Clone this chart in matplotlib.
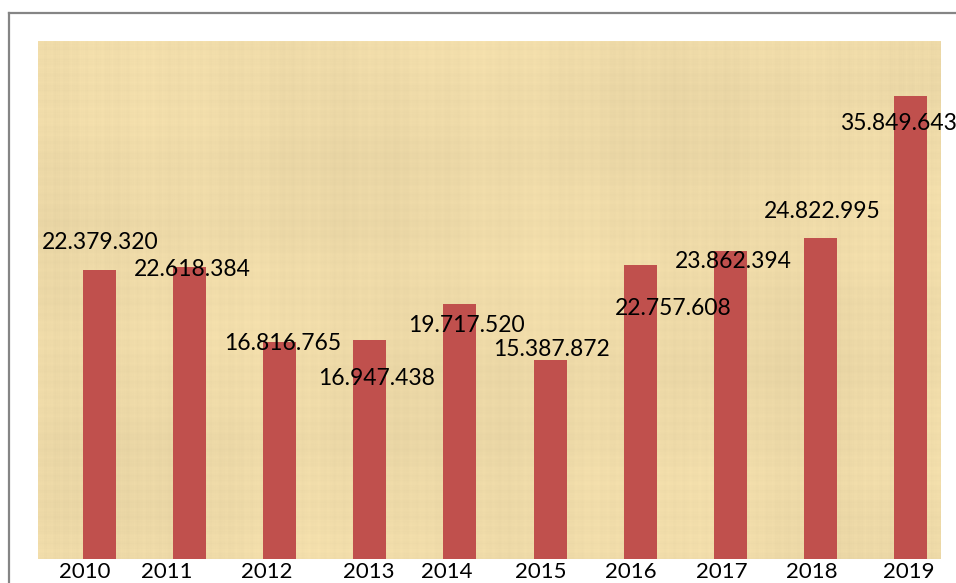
import numpy as np
import matplotlib
matplotlib.use('Agg')
import matplotlib.pyplot as plt
from matplotlib.lines import Line2D

# Données du graphique
annees = ['2010', '2011', '2012', '2013', '2014', '2015', '2016', '2017', '2018', '2019']
valeurs = [22379320, 22618384, 16816765, 16947438, 19717520,
           15387872, 22757608, 23862394, 24822995, 35849643]

# Décalages (pixels) des étiquettes, tels qu'on les voit sur l'original
decal_valeurs = [(0.5, 27), (2.5, -3), (2.5, -2), (6.5, -38), (6.5, -21),
                 (1, 11), (33, -43), (3, -11), (2, 27), (-12.5, -28)]
decal_annees = [-14.5, -22.5, -13.5, -1.5, -13.5, -9, -9, -9, -9, -1.5]

W, H, DPI = 956, 583, 100
fig = plt.figure(figsize=(W / DPI, H / DPI), dpi=DPI)
fig.patch.set_facecolor('white')

# Zone de tracé en pixels : x 38 -> 940, y 41 -> 559
pos = [38 / W, (H - 559) / H, (940 - 38) / W, (559 - 41) / H]

# Fond façon papyrus (motif déterministe de fibres fines)
bg = fig.add_axes(pos, zorder=0)
yy, xx = np.mgrid[0:518, 0:902].astype(float)
fib_v = (np.sin(xx * 1.37 + 1.3) * 0.4 + np.sin(xx * 0.61 + 0.4) * 0.6
         + np.sin(xx * 2.9) * 0.3 + np.sin(xx * 0.113 + 2.0) * 0.5)
fib_h = (np.sin(yy * 1.21 + 0.7) * 0.4 + np.sin(yy * 0.47 + 1.1) * 0.6
         + np.sin(yy * 2.6) * 0.3 + np.sin(yy * 0.089 + 0.5) * 0.5)
tache = np.sin(xx * 0.011 + yy * 0.009) * np.cos(xx * 0.007 - yy * 0.016)
mod = 1 + 0.008 * fib_v + 0.008 * fib_h + 0.018 * tache
base = np.array([238, 218, 168]) / 255.0
tex = np.clip(base[None, None, :] * mod[:, :, None], 0, 1)
bg.imshow(tex, aspect='auto', interpolation='bilinear')
bg.set_axis_off()

ax = fig.add_axes(pos, zorder=1)
ax.patch.set_alpha(0)

x = np.arange(len(annees))
ax.bar(x, valeurs, width=0.366, color='#C0504D', zorder=2)

ax.set_xlim(-0.683, 9.327)
ax.set_ylim(0, 40.1e6)
for s in ax.spines.values():
    s.set_visible(False)
ax.set_xticks([])
ax.set_yticks([])

police = 'Lato'

# Étiquettes de valeurs (séparateur de milliers : point)
for i, v in enumerate(valeurs):
    dx, dy = decal_valeurs[i]
    ax.annotate(f'{v:,}'.replace(',', '.'), xy=(i, v), xytext=(dx, dy),
                textcoords='offset pixels', ha='center', va='center',
                fontsize=16.5, family=police, color='black',
                annotation_clip=False, zorder=3)

# Étiquettes des années
for i, a in enumerate(annees):
    ax.annotate(a, xy=(i, 0), xycoords=ax.get_xaxis_transform(),
                xytext=(decal_annees[i], -13), textcoords='offset pixels',
                ha='center', va='center', fontsize=16, family=police,
                color='black', annotation_clip=False)

# Cadre gris du graphique (dépasse à droite et en bas)
fig.add_artist(Line2D([9 / W, 1], [1 - 13 / H, 1 - 13 / H],
                      color='#858585', lw=1.6))
fig.add_artist(Line2D([9 / W, 9 / W], [0, 1 - 13 / H],
                      color='#858585', lw=1.6))

fig.savefig('out.png', dpi=DPI)
plt.close(fig)
